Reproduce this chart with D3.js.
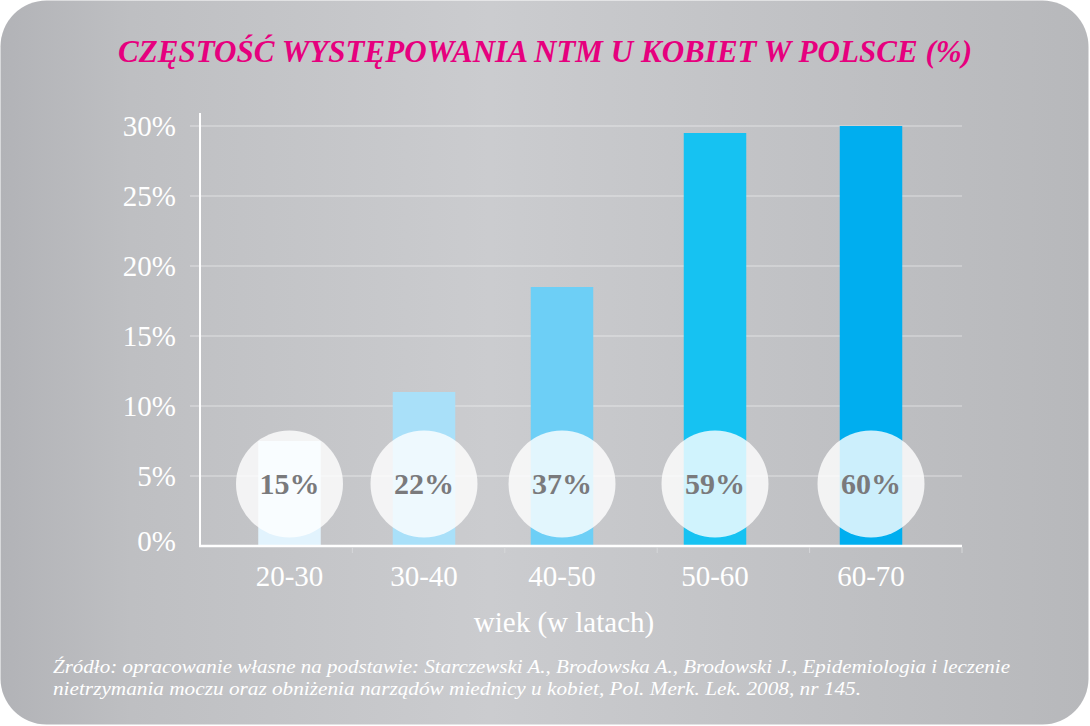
<!DOCTYPE html>
<html lang="pl">

<head>
    <meta charset="UTF-8">
    <meta name="viewport" content="width=device-width, initial-scale=1.0">
    <title>Częstość występowania NTM</title>
    <script src="https://cdn.jsdelivr.net/npm/d3@7"></script>
    <style>
        body { margin: 0; background: #fff; }
        svg { display: block; }
        text { font-family: "Liberation Serif", "DejaVu Serif", serif; }
    </style>
</head>

<body>
<div id="showC"></div>
<script>
    // dane
    let categories = ["20-30", "30-40", "40-50", "50-60", "60-70"];
    let values = [7.5, 11, 18.5, 29.5, 30];          // wysokość słupka (oś %)
    let circleLabels = ["15%", "22%", "37%", "59%", "60%"];
    let yTicks = [0, 5, 10, 15, 20, 25, 30];
    let barColors = ["#e2f3fd", "#a9e0f9", "#6dcff6", "#16c2f2", "#00aeef"];

    let title = "CZĘSTOŚĆ WYSTĘPOWANIA NTM U KOBIET W POLSCE (%)";
    let xTitle = "wiek (w latach)";
    let source = [
        "Źródło: opracowanie własne na podstawie: Starczewski A., Brodowska A., Brodowski J., Epidemiologia i leczenie",
        "nietrzymania moczu oraz obniżenia narządów miednicy u kobiet, Pol. Merk. Lek. 2008, nr 145."
    ];

    var width = 1090, height = 726;
    var plotLeft = 200, plotRight = 962, plotTop = 126, plotBottom = 546;

    var svg = d3.select("#showC").append("svg")
        .attr("width", width)
        .attr("height", height);

    // tło - zaokrąglona karta z szarym gradientem
    var grad = svg.append("defs").append("linearGradient")
        .attr("id", "bg")
        .attr("x1", "0%").attr("x2", "100%").attr("y1", "0%").attr("y2", "0%");
    [["0%", "#b2b3b7"], ["12%", "#bebfc2"], ["45%", "#cbcccf"], ["75%", "#c0c1c4"], ["100%", "#b7b8bb"]]
        .forEach(s => grad.append("stop").attr("offset", s[0]).attr("stop-color", s[1]));

    svg.append("rect")
        .attr("x", 0.5).attr("y", 0.5)
        .attr("width", 1088).attr("height", 724)
        .attr("rx", 46).attr("ry", 46)
        .attr("fill", "url(#bg)");

    var y = d3.scaleLinear().domain([0, 30]).range([plotBottom, plotTop]);
    var xBand = d3.scaleBand().domain(categories).range([plotLeft, plotRight]);
    // środki słupków na oryginale nie są równo rozstawione
    var xCenter = d3.scaleOrdinal().domain(categories).range([289.5, 424, 562, 715, 871]);
    var barW = 62.5;

    var g = svg.append("g");

    // linie siatki
    g.selectAll(".grid").data(yTicks.filter(d => d > 0)).enter()
        .append("line")
        .attr("x1", plotLeft - 10).attr("x2", plotRight)
        .attr("y1", d => y(d)).attr("y2", d => y(d))
        .attr("stroke", "#fff")
        .attr("stroke-opacity", 0.5)
        .attr("stroke-width", 1.2);

    // podpisy osi Y
    g.selectAll(".ylab").data(yTicks).enter()
        .append("text")
        .attr("x", 176)
        .attr("y", d => y(d) + (d === 0 ? 5 : 10))
        .attr("text-anchor", "end")
        .attr("font-size", 29)
        .attr("fill", "#fff")
        .text(d => d + "%");

    // słupki
    g.selectAll(".bar").data(values).enter()
        .append("rect")
        .attr("x", (d, i) => xCenter(categories[i]) - barW / 2)
        .attr("y", d => y(d))
        .attr("width", barW)
        .attr("height", d => y(0) - y(d))
        .attr("fill", (d, i) => barColors[i]);

    // osie
    g.append("line")
        .attr("x1", plotLeft).attr("x2", plotLeft)
        .attr("y1", 113).attr("y2", plotBottom + 1)
        .attr("stroke", "#fff").attr("stroke-width", 2);
    g.append("line")
        .attr("x1", plotLeft - 1).attr("x2", plotRight)
        .attr("y1", plotBottom).attr("y2", plotBottom)
        .attr("stroke", "#fff").attr("stroke-width", 2.4);

    // drobne znaczniki pod osią X
    g.selectAll(".tick").data(categories).enter()
        .append("line")
        .attr("x1", d => xBand(d) + xBand.bandwidth()).attr("x2", d => xBand(d) + xBand.bandwidth())
        .attr("y1", plotBottom + 1).attr("y2", plotBottom + 7)
        .attr("stroke", "#d6d7d9").attr("stroke-width", 1);

    // podpisy osi X
    g.selectAll(".xlab").data(categories).enter()
        .append("text")
        .attr("x", d => xCenter(d))
        .attr("y", 586)
        .attr("text-anchor", "middle")
        .attr("font-size", 29)
        .attr("fill", "#fff")
        .text(d => d);

    g.append("text")
        .attr("x", 564).attr("y", 632)
        .attr("text-anchor", "middle")
        .attr("font-size", 29)
        .attr("fill", "#fff")
        .text(xTitle);

    // półprzezroczyste koła z etykietami
    g.selectAll(".dot").data(circleLabels).enter()
        .append("circle")
        .attr("cx", (d, i) => xCenter(categories[i]))
        .attr("cy", 484)
        .attr("r", 53.5)
        .attr("fill", "#fff")
        .attr("fill-opacity", 0.8);

    g.selectAll(".dotlab").data(circleLabels).enter()
        .append("text")
        .attr("x", (d, i) => xCenter(categories[i]))
        .attr("y", 494)
        .attr("text-anchor", "middle")
        .attr("font-size", 30)
        .attr("font-weight", "bold")
        .attr("fill", "#7a7a7c")
        .text(d => d);

    // tytuł
    svg.append("text")
        .attr("x", 118).attr("y", 62)
        .attr("font-size", 32)
        .attr("font-weight", "bold")
        .attr("font-style", "italic")
        .attr("fill", "#e6007e")
        .attr("textLength", 854)
        .attr("lengthAdjust", "spacingAndGlyphs")
        .text(title);

    // źródło
    var srcLen = [957, 808];
    svg.selectAll(".src").data(source).enter()
        .append("text")
        .attr("x", 53)
        .attr("y", (d, i) => 673 + i * 21.5)
        .attr("font-size", 19.5)
        .attr("font-style", "italic")
        .attr("fill", "#fff")
        .attr("textLength", (d, i) => srcLen[i])
        .attr("lengthAdjust", "spacingAndGlyphs")
        .text(d => d);
</script>
</body>

</html>
